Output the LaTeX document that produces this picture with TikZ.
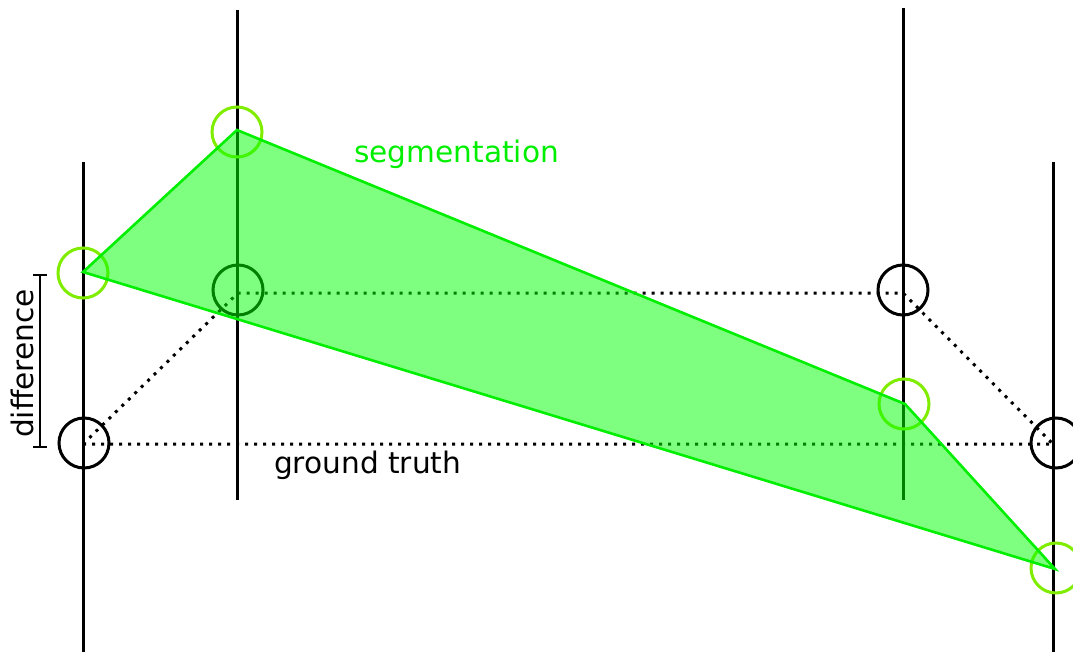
\documentclass[tikz,border=0pt]{standalone}
\usepackage{fontspec}
\setmainfont{DejaVu Sans}
\definecolor{segline}{RGB}{0,238,0}
\definecolor{segfill}{RGB}{0,255,0}
\definecolor{segcirc}{RGB}{128,236,0}
\begin{document}
\begin{tikzpicture}[x=1pt,y=-1pt,
  axis/.style={line width=3pt,black},
  gtcirc/.style={circle,draw=black,line width=3pt,minimum size=50pt,inner sep=0pt},
  sgcirc/.style={circle,draw=segcirc,line width=3pt,minimum size=50pt,inner sep=0pt},
  gtline/.style={line width=3pt,dash pattern=on 3pt off 6pt,black},
  seg/.style={draw=segline,line width=2.6pt,fill=segfill,fill opacity=0.5,line join=miter},
  lbl/.style={inner sep=0pt,font=\fontsize{29.6}{34}\selectfont}]
\useasboundingbox (0,0) rectangle (1073,652);
% vertical axes
\coordinate (a1t) at (83,162);  \coordinate (a1b) at (83,652);
\coordinate (a2t) at (237,10);  \coordinate (a2b) at (237,500);
\coordinate (a3t) at (903,8);   \coordinate (a3b) at (903,500);
\coordinate (a4t) at (1053,162);\coordinate (a4b) at (1053,652);
\draw[axis] (a1t) -- (a1b);
\draw[axis] (a2t) -- (a2b);
\draw[axis] (a3t) -- (a3b);
\draw[axis] (a4t) -- (a4b);
% ground truth points
\coordinate (g1) at (83,444);
\coordinate (g2) at (238,293);
\coordinate (g3) at (903,293);
\coordinate (g4) at (1053,444);
\node[gtcirc] (gc1) at (84,443) {};
\node[gtcirc] (gc2) at (238,290) {};
\node[gtcirc] (gc3) at (903,290) {};
\node[gtcirc] (gc4) at (1056,443) {};
\draw[gtline] (g1) -- (g2) -- (g3) -- (g4) -- cycle;
% segmentation points
\coordinate (s1) at (83,272);
\coordinate (s2) at (237,130);
\coordinate (s3) at (905,404);
\coordinate (s4) at (1055,569);
\node[sgcirc] (sc1) at (83,273) {};
\node[sgcirc] (sc2) at (237,132) {};
\node[sgcirc] (sc3) at (904,404) {};
\node[sgcirc] (sc4) at (1056,568) {};
% difference bracket
\coordinate (dt) at (40,275);
\coordinate (db) at (40,447);
\draw[line width=1.6pt] (dt) -- (db);
\draw[line width=1.6pt] ([xshift=-7pt]dt) -- ([xshift=7pt]dt);
\draw[line width=1.6pt] ([xshift=-7pt]db) -- ([xshift=7pt]db);
\node[lbl,rotate=90,anchor=base west] (diff) at (33,438) {difference};
% labels
\node[lbl,anchor=base west,text=segline] (segl) at (354,163) {segmentation};
\node[lbl,anchor=base west] (gtl) at (274,473) {ground truth};
% segmentation polygon
\draw[seg] (s1) -- (s2) -- (s3) -- (s4) -- cycle;
\end{tikzpicture}
\end{document}
